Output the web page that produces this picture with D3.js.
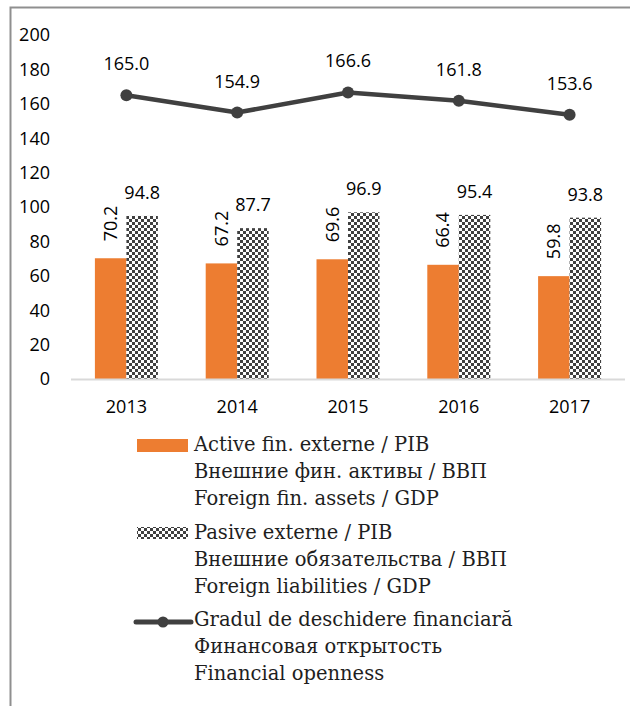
<!DOCTYPE html>
<html>
<head>
<meta charset="utf-8">
<script src="https://cdn.jsdelivr.net/npm/d3@7"></script>
<style>
  body { margin: 0; background: #fff; }
  svg text { fill: #000; }
</style>
</head>
<body>
<svg id="chart" width="630" height="706"></svg>
<script>
// chart data
const years = ['2013', '2014', '2015', '2016', '2017'];
const assets = [70.2, 67.2, 69.6, 66.4, 59.8];
const liabilities = [94.8, 87.7, 96.9, 95.4, 93.8];
const openness = [165.0, 154.9, 166.6, 161.8, 153.6];
const yTicks = [0, 20, 40, 60, 80, 100, 120, 140, 160, 180, 200];

const legendItems = [
  {kind: 'assets', lines: ['Active fin. externe / PIB', 'Внешние фин. активы / ВВП', 'Foreign fin. assets / GDP']},
  {kind: 'liabilities', lines: ['Pasive externe / PIB', 'Внешние обязательства / ВВП', 'Foreign liabilities / GDP']},
  {kind: 'openness', lines: ['Gradul de deschidere financiară', 'Финансовая открытость', 'Financial openness']}
];

const ORANGE = '#ed7d31';
const DARK = '#404040';
const SANS = '"Open Sans", "Noto Sans", sans-serif';
const SERIF = '"DejaVu Serif", serif';

const svg = d3.select('#chart');

// pattern for the liabilities bars (small checkerboard)
const defs = svg.append('defs');
const pat = defs.append('pattern')
  .attr('id', 'checker')
  .attr('patternUnits', 'userSpaceOnUse')
  .attr('width', 6).attr('height', 6);
pat.append('rect').attr('width', 6).attr('height', 6).attr('fill', '#fff');
pat.append('rect').attr('width', 3).attr('height', 3).attr('fill', DARK);
pat.append('rect').attr('x', 3).attr('y', 3).attr('width', 3).attr('height', 3).attr('fill', DARK);

// frame (left and top only)
svg.append('path')
  .attr('d', 'M10.5,706V7.5H630')
  .attr('fill', 'none')
  .attr('stroke', '#8f8f8f')
  .attr('stroke-width', 2);

const x = d3.scaleBand().domain(years).range([71, 625]);
const y = d3.scaleLinear().domain([0, 200]).range([379, 35]);
const barW = 31.5;

// y tick labels
svg.append('g').selectAll('text')
  .data(yTicks)
  .join('text')
  .attr('x', 50)
  .attr('y', d => y(d))
  .attr('dy', '0.35em')
  .attr('text-anchor', 'end')
  .style('font-family', SANS)
  .style('font-size', '18px')
  .text(d => d);

// bars
const groups = svg.append('g').selectAll('g')
  .data(years)
  .join('g');

groups.append('rect')
  .attr('x', d => x(d) + x.bandwidth() / 2 - barW)
  .attr('y', (d, i) => y(assets[i]))
  .attr('width', barW)
  .attr('height', (d, i) => y(0) - y(assets[i]))
  .attr('fill', ORANGE);

groups.append('rect')
  .attr('x', d => x(d) + x.bandwidth() / 2)
  .attr('y', (d, i) => y(liabilities[i]))
  .attr('width', barW)
  .attr('height', (d, i) => y(0) - y(liabilities[i]))
  .attr('fill', 'url(#checker)');

// bar value labels
groups.append('text')
  .attr('transform', (d, i) => {
    const cx = x(d) + x.bandwidth() / 2 - barW / 2;
    return 'translate(' + cx + ',' + (y(assets[i]) - 17) + ') rotate(-90)';
  })
  .attr('dy', '0.35em')
  .style('font-family', SANS)
  .style('font-size', '18px')
  .text((d, i) => assets[i].toFixed(1));

groups.append('text')
  .attr('x', d => x(d) + x.bandwidth() / 2 + barW / 2)
  .attr('y', (d, i) => y(liabilities[i]) - 17)
  .attr('text-anchor', 'middle')
  .style('font-family', SANS)
  .style('font-size', '18px')
  .text((d, i) => liabilities[i].toFixed(1));

// x axis line
svg.append('line')
  .attr('x1', 71).attr('x2', 625)
  .attr('y1', y(0) + 0.5).attr('y2', y(0) + 0.5)
  .attr('stroke', '#d9d9d9')
  .attr('stroke-width', 2);

// year labels
svg.append('g').selectAll('text')
  .data(years)
  .join('text')
  .attr('x', d => x(d) + x.bandwidth() / 2)
  .attr('y', 413)
  .attr('text-anchor', 'middle')
  .style('font-family', SANS)
  .style('font-size', '18px')
  .text(d => d);

// openness line
const line = d3.line()
  .x((d, i) => x(years[i]) + x.bandwidth() / 2)
  .y(d => y(d));

svg.append('path')
  .datum(openness)
  .attr('d', line)
  .attr('fill', 'none')
  .attr('stroke', DARK)
  .attr('stroke-width', 4.5)
  .attr('stroke-linejoin', 'round');

svg.append('g').selectAll('circle')
  .data(openness)
  .join('circle')
  .attr('cx', (d, i) => x(years[i]) + x.bandwidth() / 2)
  .attr('cy', d => y(d))
  .attr('r', 6)
  .attr('fill', DARK);

svg.append('g').selectAll('text')
  .data(openness)
  .join('text')
  .attr('x', (d, i) => x(years[i]) + x.bandwidth() / 2)
  .attr('y', d => y(d) - 25)
  .attr('text-anchor', 'middle')
  .style('font-family', SANS)
  .style('font-size', '18px')
  .text(d => d.toFixed(1));

// legend
const legendTop = [451, 539, 626];
const lineH = 27;
const legend = svg.append('g');

legendItems.forEach((item, k) => {
  const g = legend.append('g');
  const base = legendTop[k];
  if (item.kind === 'assets') {
    g.append('rect').attr('x', 137).attr('y', base - 12).attr('width', 51).attr('height', 13).attr('fill', ORANGE);
  } else if (item.kind === 'liabilities') {
    g.append('rect').attr('x', 137).attr('y', base - 12).attr('width', 51).attr('height', 12).attr('fill', 'url(#checker)');
  } else {
    g.append('line').attr('x1', 136).attr('x2', 191).attr('y1', base - 4).attr('y2', base - 4)
      .attr('stroke', DARK).attr('stroke-width', 5).attr('stroke-linecap', 'round');
    g.append('circle').attr('cx', 163).attr('cy', base - 4).attr('r', 5.5).attr('fill', DARK);
  }
  g.selectAll('text')
    .data(item.lines)
    .join('text')
    .attr('x', 194)
    .attr('y', (d, i) => base + i * lineH)
    .style('font-family', SERIF)
    .style('font-size', '19.5px')
    .style('fill', '#1e1e1e')
    .text(d => d);
});
</script>
</body>
</html>
